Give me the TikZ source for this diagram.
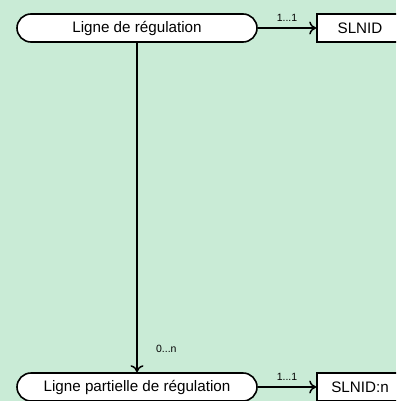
\documentclass[tikz,border=0pt]{standalone}
\usepackage{fontspec}
\setmainfont{Liberation Sans}
\usetikzlibrary{arrows.meta}
\definecolor{fond}{RGB}{201,235,214}
\tikzset{
    classe/.style={draw,line width=1.6pt,fill=white,rounded corners=14pt,minimum width=240pt,minimum height=28pt,font=\fontsize{15.2}{18}\selectfont},
    attribut/.style={draw,line width=1.6pt,fill=white,minimum width=86pt,minimum height=28pt,font=\fontsize{15.2}{18}\selectfont},
    lien/.style={line width=1.6pt,-{To[length=7pt,width=13pt,line width=1.5pt]}},
    card/.style={font=\fontsize{10.5}{12}\selectfont}
}
\begin{document}
\begin{tikzpicture}[x=1pt,y=-1pt]
        \fill[fond](0,0)rectangle(396,401);
        \useasboundingbox(0,0)rectangle(396,401);
        \clip(0,0)rectangle(396,401);
        \node[classe](ligne)at(137,28){Ligne de régulation};
        \node[attribut](slnid)at(360,28){SLNID};
        \node[classe](partielle)at(137,387){Ligne partielle de régulation};
        \node[attribut](slnidn)at(360,387){SLNID:n};

        \draw[lien](ligne)--(slnid)node[card,midway,above=2pt]{1...1};
        \draw[lien](ligne)--(partielle)node[card,pos=0.93,right=15pt]{0...n};
        \draw[lien](partielle)--(slnidn)node[card,midway,above=2pt]{1...1};
    \end{tikzpicture}
\end{document}
